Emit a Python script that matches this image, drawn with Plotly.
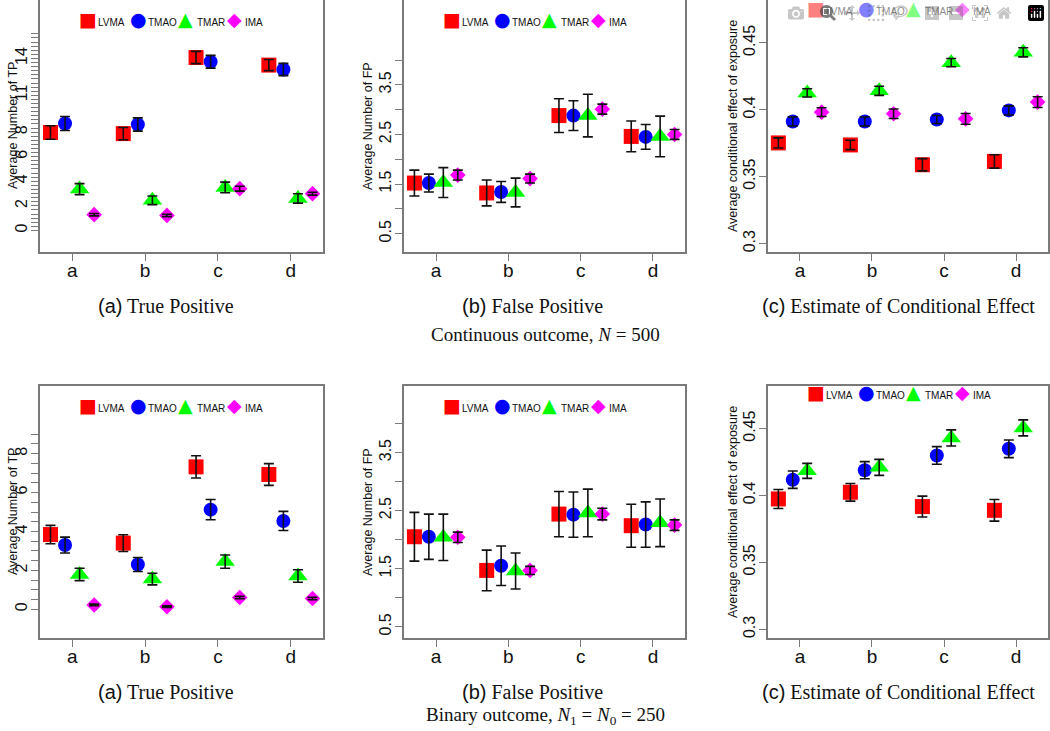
import plotly.graph_objects as go

# categories and methods
categories = ["a", "b", "c", "d"]
methods = ["LVMA", "TMAO", "TMAR", "IMA"]
colors = ["#FF0000", "#0000FF", "#00FF00", "#FF00FF"]
symbols = ["square", "circle", "triangle-up", "diamond"]
sizes = [15, 14, 17, 12]
glyphs = ["\u25A0", "\u25CF", "\u25B2", "\u25C6"]
offsets = [-0.3, -0.1, 0.1, 0.3]

# continuous outcome, N = 500 (rows: LVMA, TMAO, TMAR, IMA)
tp_cont_mean = [[7.97, 7.88, 14.08, 13.46], [8.7, 8.62, 13.73, 13.1],
                [3.36, 2.45, 3.5, 2.6], [1.28, 1.22, 3.4, 2.99]]
tp_cont_err = [[0.55, 0.5, 0.5, 0.45], [0.57, 0.54, 0.52, 0.5],
               [0.45, 0.35, 0.43, 0.38], [0.1, 0.1, 0.2, 0.12]]
fp_cont_mean = [[1.52, 1.32, 2.88, 2.46], [1.52, 1.34, 2.88, 2.45],
                [1.53, 1.33, 2.88, 2.46], [1.68, 1.61, 3.01, 2.5]]
fp_cont_err = [[0.26, 0.26, 0.34, 0.31], [0.18, 0.21, 0.3, 0.25],
               [0.3, 0.29, 0.43, 0.41], [0.1, 0.09, 0.1, 0.1]]
ce_cont_mean = [[0.3752, 0.3737, 0.3589, 0.3614], [0.3912, 0.3912, 0.3927, 0.3995],
                [0.4126, 0.4141, 0.4352, 0.4429], [0.3982, 0.397, 0.3932, 0.4057]]
ce_cont_err = [[0.0038, 0.0035, 0.0046, 0.005], [0.0034, 0.0034, 0.003, 0.0034],
               [0.0031, 0.0034, 0.0031, 0.0034], [0.0033, 0.0035, 0.004, 0.004]]

# binary outcome, N1 = N0 = 250
tp_bin_mean = [[3.84, 3.4, 7.32, 6.93], [3.3, 2.3, 5.12, 4.54],
               [1.79, 1.55, 2.45, 1.71], [0.22, 0.13, 0.6, 0.55]]
tp_bin_err = [[0.47, 0.43, 0.57, 0.56], [0.41, 0.36, 0.52, 0.49],
              [0.32, 0.3, 0.34, 0.32], [0.04, 0.04, 0.06, 0.06]]
fp_bin_mean = [[2.05, 1.47, 2.44, 2.24], [2.05, 1.55, 2.43, 2.26],
               [2.04, 1.46, 2.46, 2.29], [2.04, 1.47, 2.44, 2.25]]
fp_bin_err = [[0.42, 0.35, 0.39, 0.37], [0.39, 0.34, 0.39, 0.39],
              [0.4, 0.31, 0.41, 0.41], [0.09, 0.07, 0.1, 0.09]]
ce_bin_mean = [[0.3974, 0.4024, 0.3917, 0.3889], [0.4118, 0.4189, 0.4299, 0.4349],
               [0.4184, 0.421, 0.443, 0.4505], None]
ce_bin_err = [[0.0071, 0.0066, 0.0078, 0.0081], [0.0065, 0.0064, 0.0066, 0.0066],
              [0.0056, 0.006, 0.006, 0.006], None]

# y axis ticks
tp_cont_ticks = [i / 3 for i in range(49)]
tp_cont_labels = {0: "0", 6: "2", 12: "4", 18: "6", 24: "8", 33: "11", 42: "14"}
tp_bin_ticks = [i / 2 for i in range(19)]
tp_bin_labels = {0: "0", 4: "2", 8: "4", 12: "6", 16: "8"}
fp_ticks = [0.5, 1.0, 1.5, 2.0, 2.5, 3.0, 3.5, 4.0]
fp_labels = {0: "0.5", 2: "1.5", 4: "2.5", 6: "3.5"}
ce_ticks = [0.3, 0.35, 0.4, 0.45]
ce_labels = {0: "0.3", 1: "0.35", 2: "0.4", 3: "0.45"}

captions = ["True Positive", "False Positive", "Estimate of Conditional Effect"]
letters = ["(a)", "(b)", "(c)"]

W, H = 1050, 731
cols_px = [(40, 323), (404, 685), (768, 1048)]
rows_px = [(0, 252), (386, 638)]
ytitle_x = [13, 368, 733]
# legend item placement, px from the panel's left edge
glyph_dx = [48, 98, 145, 194]
text_dx = [56, 106, 155, 203]

panels = [
    (tp_cont_mean, tp_cont_err, [-1.76, 18.76], tp_cont_ticks, tp_cont_labels, "Average Number of TP", 0, 0, 22),
    (fp_cont_mean, fp_cont_err, [0.13, 5.21], fp_ticks, fp_labels, "Average Number of FP", 0, 1, 22),
    (ce_cont_mean, ce_cont_err, [0.2937, 0.482], ce_ticks, ce_labels, "Average conditional effect of exposure", 0, 2, 11),
    (tp_bin_mean, tp_bin_err, [-1.48, 11.48], tp_bin_ticks, tp_bin_labels, "Average Number of TP", 1, 0, 408),
    (fp_bin_mean, fp_bin_err, [0.306, 4.646], fp_ticks, fp_labels, "Average Number of FP", 1, 1, 408),
    (ce_bin_mean, ce_bin_err, [0.2935, 0.4818], ce_ticks, ce_labels, "Average conditional effect of exposure", 1, 2, 395),
]

fig = go.Figure()
annotations = []
frame_col = "#7a7a7a"
sans = "Liberation Sans, Arial, sans-serif"
serif = "Liberation Serif, Times New Roman, serif"

for k, (mean, err, yr, ticks, labels, ytitle, r, c, leg_y) in enumerate(panels):
    n = "" if k == 0 else str(k + 1)
    xa, ya = "x" + n, "y" + n
    x0, x1 = cols_px[c]
    y0, y1 = rows_px[r]
    fig.layout["xaxis" + n] = dict(
        domain=[x0 / W, x1 / W], range=[0.556, 4.444], anchor=ya, automargin=False,
        tickvals=[1, 2, 3, 4], ticktext=categories, ticks="outside", ticklen=7,
        tickcolor=frame_col, showline=True, linecolor=frame_col, linewidth=1.5,
        mirror=True, showgrid=False, zeroline=False, ticklabelstandoff=-7,
        tickfont=dict(family=sans, size=19, color="#111"),
    )
    fig.layout["yaxis" + n] = dict(
        domain=[1 - y1 / H, 1 - y0 / H], range=yr, anchor=xa, automargin=False,
        tickvals=ticks, ticktext=[labels.get(i, "") for i in range(len(ticks))],
        ticks="outside", ticklen=7, tickcolor=frame_col, tickangle=-90,
        showline=True, linecolor=frame_col, linewidth=1.5, mirror=True,
        showgrid=False, zeroline=False, ticklabelstandoff=-2,
        tickfont=dict(family=sans, size=16, color="#111"),
    )
    # y axis title
    annotations.append(dict(
        x=ytitle_x[c] / W, y=1 - (y0 + y1) / 2 / H, xref="paper", yref="paper",
        xanchor="center", yanchor="middle", textangle=-90, showarrow=False,
        text=ytitle, font=dict(family=sans, size=12.5, color="#111"),
    ))
    # markers
    for m in range(4):
        if mean[m] is None:
            continue
        xs = [i + 1 + offsets[m] for i in range(4)]
        fig.add_trace(go.Scatter(
            x=xs, y=mean[m], mode="markers", xaxis=xa, yaxis=ya, showlegend=False,
            marker=dict(symbol=symbols[m], size=sizes[m], color=colors[m], line=dict(width=0)),
        ))
    # error bars drawn over the markers
    for m in range(4):
        if mean[m] is None:
            continue
        xs = [i + 1 + offsets[m] for i in range(4)]
        fig.add_trace(go.Scatter(
            x=xs, y=mean[m], mode="markers", xaxis=xa, yaxis=ya, showlegend=False,
            marker=dict(size=1, color="rgba(0,0,0,0)"),
            error_y=dict(type="data", array=err[m], color="#111", thickness=1.6, width=5),
        ))
    # legend inside panel: coloured glyph + label per method
    for m in range(4):
        annotations.append(dict(
            x=(x0 + glyph_dx[m]) / W, y=1 - leg_y / H, xref="paper", yref="paper",
            xanchor="center", yanchor="middle", yshift=3, showarrow=False, text=glyphs[m],
            font=dict(family="DejaVu Sans", size=19, color=colors[m]),
        ))
        annotations.append(dict(
            x=(x0 + text_dx[m]) / W, y=1 - leg_y / H, xref="paper", yref="paper",
            xanchor="left", yanchor="middle", showarrow=False, text=methods[m],
            font=dict(family=sans, size=10, color="#111"),
        ))

# captions under each panel
cap_y = [306, 692]
sub_y = [334, 716]
subtitles = ["Continuous outcome, <i>N</i> = 500",
             "Binary outcome, <i>N</i><sub>1</sub> = <i>N</i><sub>0</sub> = 250"]
cap_x = [166, 532, 898]
for r in range(2):
    for c in range(3):
        annotations.append(dict(
            x=cap_x[c] / W, y=1 - cap_y[r] / H, xref="paper", yref="paper",
            xanchor="center", yanchor="middle", showarrow=False,
            text=f"<span style='font-family:Liberation Sans'>{letters[c]}</span> {captions[c]}",
            font=dict(family=serif, size=20, color="#111"),
        ))
    annotations.append(dict(
        x=545 / W, y=1 - sub_y[r] / H, xref="paper", yref="paper",
        xanchor="center", yanchor="middle", showarrow=False,
        text=subtitles[r], font=dict(family=serif, size=19, color="#111"),
    ))

fig.update_layout(
    width=W, height=H, margin=dict(l=0, r=0, t=0, b=0, autoexpand=False),
    paper_bgcolor="white", plot_bgcolor="white",
    annotations=annotations, showlegend=False,
)

# drop the page's default body margin so the figure sits at the window's corner
fig.write_html("out.html", post_script="document.body.style.margin='0';")
